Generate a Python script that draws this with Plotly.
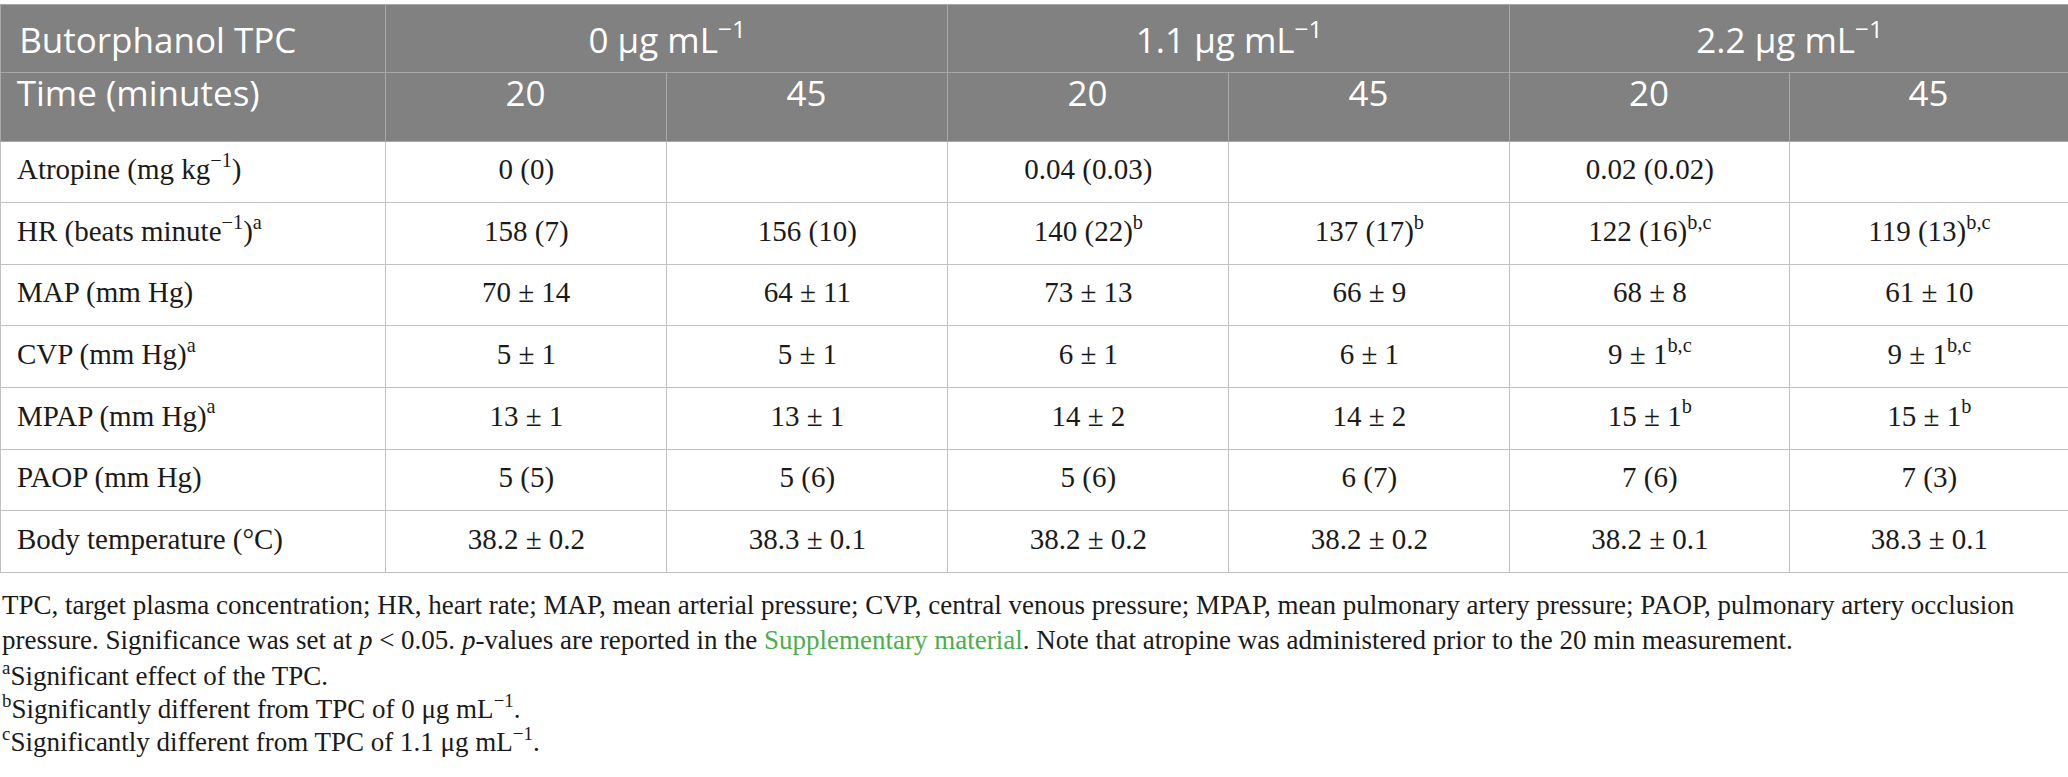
import plotly.graph_objects as go

# Data
tpc_labels = ["Butorphanol TPC", "0 μg mL<sup>−1</sup>", "1.1 μg mL<sup>−1</sup>", "2.2 μg mL<sup>−1</sup>"]
time_labels = ["Time (minutes)", "20", "45", "20", "45", "20", "45"]

variables = [
    "Atropine (mg kg<sup>−1</sup>)",
    "HR (beats minute<sup>−1</sup>)<sup>a</sup>",
    "MAP (mm Hg)",
    "CVP (mm Hg)<sup>a</sup>",
    "MPAP (mm Hg)<sup>a</sup>",
    "PAOP (mm Hg)",
    "Body temperature (°C)",
]
tpc0_20 = ["0 (0)", "158 (7)", "70 ± 14", "5 ± 1", "13 ± 1", "5 (5)", "38.2 ± 0.2"]
tpc0_45 = ["", "156 (10)", "64 ± 11", "5 ± 1", "13 ± 1", "5 (6)", "38.3 ± 0.1"]
tpc11_20 = ["0.04 (0.03)", "140 (22)<sup>b</sup>", "73 ± 13", "6 ± 1", "14 ± 2", "5 (6)", "38.2 ± 0.2"]
tpc11_45 = ["", "137 (17)<sup>b</sup>", "66 ± 9", "6 ± 1", "14 ± 2", "6 (7)", "38.2 ± 0.2"]
tpc22_20 = ["0.02 (0.02)", "122 (16)<sup>b,c</sup>", "68 ± 8", "9 ± 1<sup>b,c</sup>", "15 ± 1<sup>b</sup>", "7 (6)", "38.2 ± 0.1"]
tpc22_45 = ["", "119 (13)<sup>b,c</sup>", "61 ± 10", "9 ± 1<sup>b,c</sup>", "15 ± 1<sup>b</sup>", "7 (3)", "38.3 ± 0.1"]

footnotes = [
    "TPC, target plasma concentration; HR, heart rate; MAP, mean arterial pressure; CVP, central venous pressure; "
    "MPAP, mean pulmonary artery pressure; PAOP, pulmonary artery occlusion",
    "pressure. Significance was set at <i>p</i> < 0.05. <i>p</i>-values are reported in the "
    "<span style='color:#4cae4c'>Supplementary material</span>. Note that atropine was administered prior to the 20 min measurement.",
    "<sup>a</sup>Significant effect of the TPC.",
    "<sup>b</sup>Significantly different from TPC of 0 μg mL<sup>−1</sup>.",
    "<sup>c</sup>Significantly different from TPC of 1.1 μg mL<sup>−1</sup>.",
]

W, H = 2068, 777
HEAD_FILL = "#808180"
HEAD_LINE = "#a8a8a8"
BODY_LINE = "#c2c2c2"
SANS = "Open Sans"
SERIF = "Liberation Serif"
IND = "\u2005"  # small indent for the first column

# plotly tables top-align cell text; a raised hair space (invisible) lifts the
# text box top so every cell sits a bit lower and on the same baseline
STRUT = "<sup>\u200a</sup>"


def body_col(labels, first=False):
    return [STRUT + (IND if first else "") + s for s in labels]


fig = go.Figure()

# top header row (merged concentration cells)
fig.add_trace(go.Table(
    domain=dict(x=[0, 1], y=[1 - 76 / H, 1 - 4 / H]),
    columnwidth=[385, 562, 562, 559],
    header=dict(
        values=[STRUT + IND + tpc_labels[0]] + [STRUT + s for s in tpc_labels[1:]],
        height=68,
        fill_color=HEAD_FILL,
        line=dict(color=HEAD_LINE, width=1),
        align=["left", "center", "center", "center"],
        font=dict(family=SANS, size=35, color="white"),
    ),
    cells=dict(values=[[], [], [], []]),
))

# time row + body
fig.add_trace(go.Table(
    domain=dict(x=[0, 1], y=[1 - 590 / H, 1 - 72 / H]),
    columnwidth=[385, 281, 281, 281, 281, 280, 279],
    header=dict(
        values=[IND + time_labels[0]] + time_labels[1:],
        height=69,
        fill_color=HEAD_FILL,
        line=dict(color=HEAD_LINE, width=1),
        align=["left"] + ["center"] * 6,
        font=dict(family=SANS, size=35, color="white"),
    ),
    cells=dict(
        values=[body_col(variables, first=True), body_col(tpc0_20), body_col(tpc0_45),
                body_col(tpc11_20), body_col(tpc11_45), body_col(tpc22_20), body_col(tpc22_45)],
        height=61.6,
        fill_color="white",
        line=dict(color=BODY_LINE, width=1),
        align=["left"] + ["center"] * 6,
        font=dict(family=SERIF, size=29, color="#1a1a1a"),
    ),
))

line_y = [605, 640, 674, 707, 740]
for txt, yy in zip(footnotes, line_y):
    fig.add_annotation(
        text=txt, xref="paper", yref="paper", x=0, y=1 - yy / H,
        xanchor="left", yanchor="middle", showarrow=False,
        font=dict(family=SERIF, size=27, color="#1a1a1a"),
    )

fig.update_layout(
    width=W, height=H,
    margin=dict(l=0, r=0, t=0, b=0),
    paper_bgcolor="white",
    plot_bgcolor="white",
)

fig.write_html("out.html", config={"displayModeBar": False},
               post_script="document.body.style.margin='0';")
